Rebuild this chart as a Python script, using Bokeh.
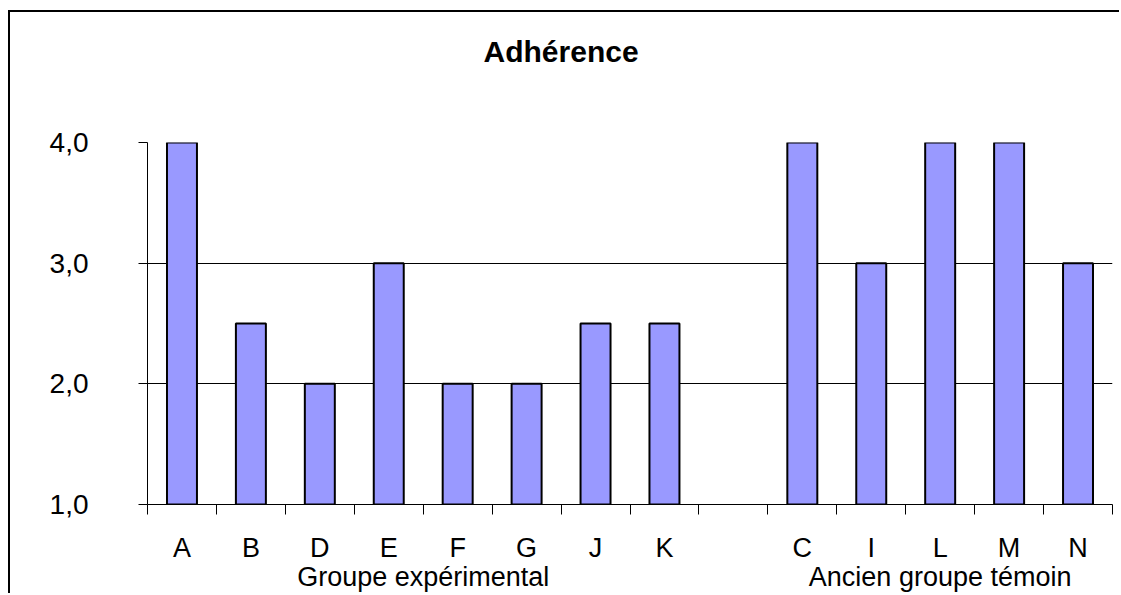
from bokeh.plotting import figure
from bokeh.models import (Range1d, FixedTicker, LinearAxis,
                          ColumnDataSource, CustomJSTickFormatter)
from bokeh.embed import file_html
from bokeh.resources import INLINE

# Participants (one empty slot separates the two groups)
categories = ["A", "B", "D", "E", "F", "G", "J", "K", "", "C", "I", "L", "M", "N"]
scores = [4.0, 2.5, 2.0, 3.0, 2.0, 2.0, 2.5, 2.5, None, 4.0, 3.0, 4.0, 4.0, 3.0]
groups = ["Groupe expérimental", "", "Ancien groupe témoin"]
group_sizes = [8, 1, 5]
y_ticks = [1.0, 2.0, 3.0, 4.0]
title_text = "Adhérence"

FONT = "Liberation Sans"
BAR_FILL = "#9999FF"
TITLE_X = 6.0   # horizontal centre of the chart area, in category units

n = len(categories)
xs = [i + 0.5 for i, v in enumerate(scores) if v is not None]
tops = [v for v in scores if v is not None]
source = ColumnDataSource(data=dict(x=xs, top=tops))

# the chart area sits inside a black border on its left and top sides
p = figure(width=1111, height=583, output_backend="svg", toolbar_location=None,
           tools="", title_location=None,
           x_range=Range1d(0, n), y_range=Range1d(y_ticks[0], y_ticks[-1]),
           x_axis_location=None, min_border_left=137, min_border_right=9,
           min_border_top=130, min_border_bottom=91,
           margin=(10, 0, 0, 8),
           styles={"border-left": "2px solid black", "border-top": "2px solid black"})
p.outline_line_color = None
p.background_fill_color = "white"
p.border_fill_color = "white"

# bars rise from the bottom of the value axis
p.vbar(x="x", top="top", bottom=y_ticks[0], width=0.435, source=source,
       fill_color=BAR_FILL, line_color="black", line_width=2)

# horizontal gridlines
p.xgrid.visible = False
p.ygrid.ticker = FixedTicker(ticks=y_ticks)
p.ygrid.grid_line_color = "black"
p.ygrid.grid_line_width = 1

# value axis
ya = p.yaxis[0]
ya.ticker = FixedTicker(ticks=y_ticks)
ya.formatter = CustomJSTickFormatter(code="return tick.toFixed(1).replace('.', ',');")
ya.axis_line_color = "black"
ya.major_tick_line_color = "black"
ya.major_tick_out = 9
ya.major_tick_in = 0
ya.minor_tick_line_color = None
ya.major_label_standoff = 50
ya.major_label_text_font = FONT
ya.major_label_text_font_size = "28px"
ya.major_label_text_color = "black"

# category axis: tick marks between categories
boundaries = list(range(n + 1))
ax_ticks = LinearAxis(ticker=FixedTicker(ticks=boundaries),
                      formatter=CustomJSTickFormatter(code="return '';"))
ax_ticks.axis_line_color = "black"
ax_ticks.major_tick_line_color = "black"
ax_ticks.major_tick_out = 10
ax_ticks.major_tick_in = 0
ax_ticks.minor_tick_line_color = None
ax_ticks.major_label_text_font_size = "0px"
ax_ticks.major_label_standoff = 0
p.add_layout(ax_ticks, "below")

# category names
centers = [i + 0.5 for i in range(n)]
ax_cats = LinearAxis(ticker=FixedTicker(ticks=centers),
                     formatter=CustomJSTickFormatter(
                         args=dict(cats=categories),
                         code="return cats[Math.floor(tick)] || '';"))
ax_cats.axis_line_color = None
ax_cats.major_tick_line_color = None
ax_cats.major_tick_out = 0
ax_cats.major_tick_in = 0
ax_cats.minor_tick_line_color = None
ax_cats.major_label_standoff = 18
ax_cats.major_label_text_font = FONT
ax_cats.major_label_text_font_size = "27px"
ax_cats.major_label_text_color = "black"
p.add_layout(ax_cats, "below")

# group names centred under their categories
group_centers = []
start = 0
for size in group_sizes:
    group_centers.append(start + size / 2)
    start += size
ax_groups = LinearAxis(ticker=FixedTicker(ticks=group_centers),
                       formatter=CustomJSTickFormatter(
                           args=dict(pos=group_centers, names=groups),
                           code="const k = pos.indexOf(tick); return k >= 0 ? names[k] : '';"))
ax_groups.axis_line_color = None
ax_groups.major_tick_line_color = None
ax_groups.major_tick_out = 0
ax_groups.major_tick_in = 0
ax_groups.minor_tick_line_color = None
ax_groups.major_label_standoff = -4
ax_groups.major_label_text_font = FONT
ax_groups.major_label_text_font_size = "27px"
ax_groups.major_label_text_color = "black"
p.add_layout(ax_groups, "below")

# chart title, drawn in the panel above the plot area
ax_title = LinearAxis(ticker=FixedTicker(ticks=[TITLE_X]),
                      formatter=CustomJSTickFormatter(args=dict(t=title_text),
                                                      code="return t;"))
ax_title.axis_line_color = None
ax_title.major_tick_line_color = None
ax_title.major_tick_out = 0
ax_title.major_tick_in = 0
ax_title.minor_tick_line_color = None
ax_title.major_label_standoff = 75
ax_title.major_label_text_font = FONT
ax_title.major_label_text_font_size = "30px"
ax_title.major_label_text_font_style = "bold"
ax_title.major_label_text_color = "black"
p.add_layout(ax_title, "above")

html = file_html(p, INLINE)
# page fits the window exactly: no body margin, no scrollbars
html = html.replace("<head>", "<head><style>html, body { margin: 0; overflow: hidden; }</style>", 1)
open("out.html", "w").write(html)
